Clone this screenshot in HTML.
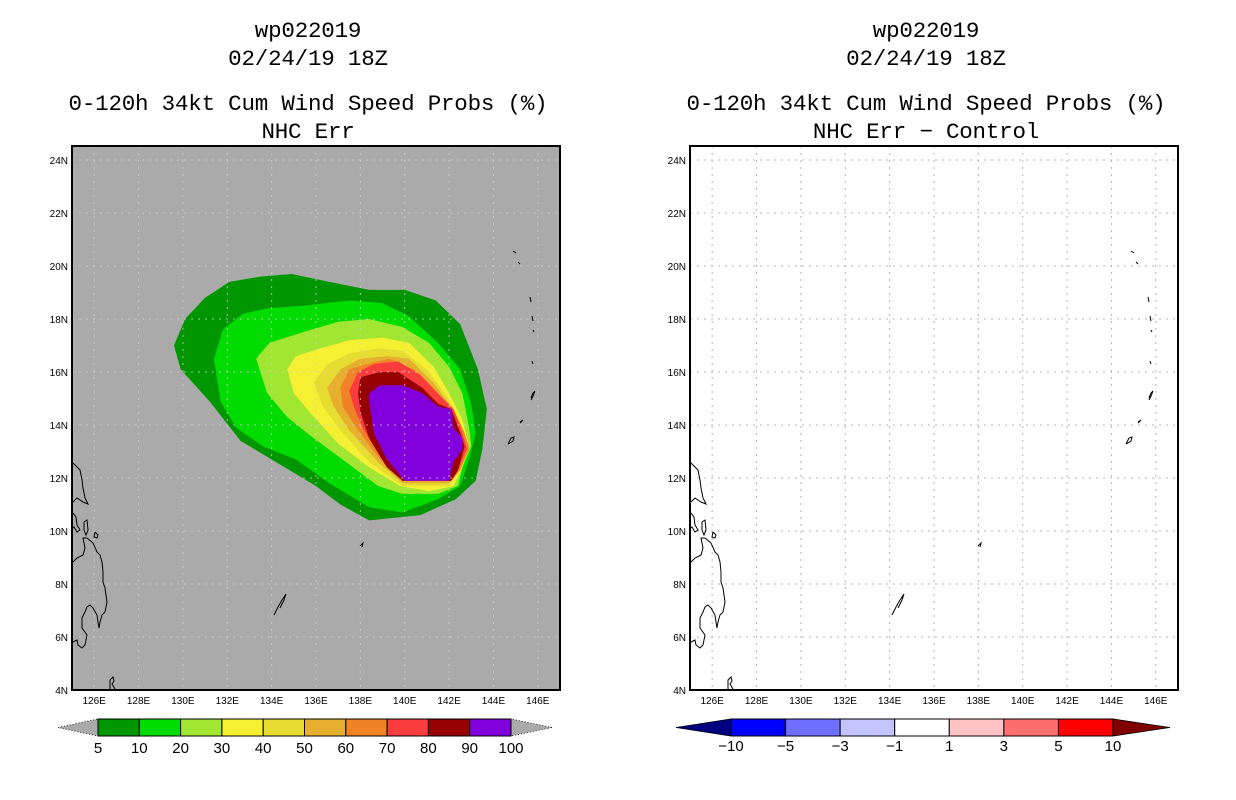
<!DOCTYPE html>
<html><head><meta charset="utf-8"><style>
html,body{margin:0;padding:0;background:#fff}
svg{display:block}
.t{font-family:"Liberation Mono",monospace;font-size:22.5px;fill:#000;text-anchor:middle;letter-spacing:-0.2px}
.tk{font-family:"Liberation Sans",sans-serif;font-size:10px;fill:#000}
.cb{font-family:"Liberation Sans",sans-serif;font-size:15px;fill:#000;text-anchor:middle}
</style></head><body>
<svg id="s" width="1236" height="800" viewBox="0 0 1236 800" xmlns="http://www.w3.org/2000/svg">
<text class="t" x="308" y="37">wp022019</text>
<text class="t" x="308" y="65">02/24/19 18Z</text>
<text class="t" x="308" y="110">0-120h 34kt Cum Wind Speed Probs (%)</text>
<text class="t" x="308" y="138">NHC Err</text>
<text class="t" x="926" y="37">wp022019</text>
<text class="t" x="926" y="65">02/24/19 18Z</text>
<text class="t" x="926" y="110">0-120h 34kt Cum Wind Speed Probs (%)</text>
<text class="t" x="926" y="138">NHC Err − Control</text>
</svg>
<script>
const lonTicks=[126,128,130,132,134,136,138,140,142,144,146];
const latTicks=[4,6,8,10,12,14,16,18,20,22,24];
const probLevels=[5,10,20,30,40,50,60,70,80,90,100];
const probColors=["#009600","#00dc00","#a0e632","#f5f032","#e6dc32","#e6af2d","#f08228","#fa3c3c","#960000","#8200dc"];
const diffLevels=[-10,-5,-3,-1,1,3,5,10];
const diffColors=["#0000ff","#6e6eff","#c3c3ff","#ffffff","#ffc3c3","#ff6e6e","#ff0000"];
const c5=[[129.6,17.0],[130.1,18.0],[131.0,18.8],[132.1,19.4],[133.5,19.6],[134.9,19.7],[136.6,19.4],[138.4,19.1],[140.0,19.1],[141.4,18.7],[142.5,17.8],[143.3,16.1],[143.7,14.6],[143.5,13.1],[143.2,11.9],[142.3,11.2],[140.7,10.6],[138.4,10.4],[137.1,11.0],[136.0,11.7],[134.4,12.5],[132.6,13.4],[131.2,14.9],[129.9,16.1]];
const c10=[[131.4,16.5],[131.8,17.6],[132.7,18.2],[133.8,18.4],[135.4,18.5],[137.5,18.7],[139.0,18.6],[140.2,18.1],[141.5,17.1],[142.5,16.1],[143.0,14.8],[143.2,13.7],[142.9,12.7],[142.5,11.7],[141.5,11.2],[139.9,10.7],[138.4,10.9],[136.6,11.8],[135.1,12.7],[133.6,13.2],[132.4,13.9],[131.7,14.9]];
const c20=[[133.3,16.5],[133.9,17.1],[135.4,17.5],[137.0,17.9],[138.4,18.0],[139.9,17.7],[141.1,17.1],[142.0,16.2],[142.6,15.2],[142.9,13.9],[143.0,13.2],[142.6,12.4],[142.4,11.7],[141.5,11.4],[139.9,11.4],[138.8,11.7],[137.2,12.7],[135.9,13.5],[134.7,14.3],[133.8,15.2]];
const c30=[[134.7,16.1],[135.1,16.6],[136.2,16.9],[137.5,17.2],[139.0,17.3],[140.2,17.1],[141.3,16.2],[142.0,15.2],[142.6,14.2],[142.9,13.2],[142.6,12.4],[142.2,11.7],[141.1,11.5],[139.8,11.7],[138.4,12.4],[137.0,13.3],[135.7,14.5],[135.0,15.2]];
const c40=[[135.9,15.6],[136.5,16.3],[137.5,16.7],[138.8,16.9],[139.9,16.8],[141.0,16.1],[141.9,15.1],[142.5,14.1],[142.9,13.2],[142.5,12.4],[142.0,11.7],[139.9,11.7],[138.4,12.6],[137.1,13.8],[136.3,14.7]];
const c50=[[136.5,15.4],[137.1,16.1],[138.0,16.5],[139.2,16.6],[140.2,16.5],[141.3,15.6],[142.0,14.8],[142.6,13.9],[142.9,13.2],[142.5,12.3],[142.0,11.8],[139.9,11.8],[138.8,12.6],[137.5,13.8],[136.8,14.7]];
const c60=[[137.1,15.4],[137.5,16.1],[138.3,16.3],[139.3,16.5],[140.4,16.1],[141.5,15.2],[142.2,14.6],[142.7,13.7],[142.9,13.1],[142.5,12.3],[142.1,11.9],[139.9,11.9],[138.9,12.7],[137.9,13.8],[137.2,14.7]];
const c70=[[137.5,15.3],[137.9,16.0],[138.6,16.3],[139.7,16.4],[140.7,15.9],[141.6,15.1],[142.2,14.6],[142.6,13.7],[142.8,13.1],[142.4,12.3],[142.1,11.9],[139.9,11.9],[139.2,12.4],[138.1,13.9],[137.7,14.7]];
const c80=[[137.9,15.2],[138.0,15.8],[138.9,16.0],[139.7,16.0],[140.8,15.4],[141.5,14.8],[142.1,14.6],[142.5,13.7],[142.7,13.2],[142.4,12.3],[142.1,11.9],[139.9,11.9],[139.2,12.4],[138.4,13.5],[138.0,14.5]];
const c90=[[138.4,14.9],[138.4,15.2],[138.9,15.5],[139.9,15.5],[140.8,15.2],[141.5,14.7],[142.1,14.6],[142.2,13.9],[142.6,13.5],[142.6,13.1],[142.2,12.6],[142.0,11.9],[140.0,11.9],[139.2,12.7],[138.6,13.7]];
const contours=[c5,c10,c20,c30,c40,c50,c60,c70,c80,c90];

const NS="http://www.w3.org/2000/svg";
const svg=document.getElementById('s');
function mk(tag,attrs,parent){const e=document.createElementNS(NS,tag);for(const k in attrs)e.setAttribute(k,attrs[k]);(parent||svg).appendChild(e);return e;}
const PL=[72,690],PT=146,PB=690,PW=488;
const lonMin=125,lonMax=147,latMin=4,latMax=24.53;
function xs(x0,lon){return x0+(lon-lonMin)/(lonMax-lonMin)*PW;}
function ys(lat){return PB-(lat-latMin)/(latMax-latMin)*(PB-PT);}
const coast=[
 [[1,463],[5,467],[8,470],[10,480],[11,488],[13,498],[16,504],[11,502],[5,498],[1,502]],
 [[1,513],[4,517],[5,525],[8,530],[5,532],[2,527],[1,528]],
 [[12,522],[15,520],[16,530],[14,535],[12,530],[12,522]],
 [[23,532],[26,535],[25,538],[22,537],[23,532]],
 [[1,562],[5,558],[11,555],[13,548],[11,538],[15,538],[21,543],[25,552],[28,555],[30,562],[31,572],[31,582],[33,588],[35,602],[33,612],[30,615],[28,622],[27,628],[26,622],[25,615],[21,608],[18,605],[15,607],[13,612],[10,618],[10,628],[15,635],[13,645],[10,648],[6,645],[5,640],[1,642]],
 [[38,690],[38,680],[41,677],[42,681],[40,684],[43,689]],
 [[288,546],[291,543],[290,547]],
 [[202,615],[206,607],[210,600],[214,594],[212,600],[208,608]],
 [[441,251],[444,253]],[[446,262],[448,264]],
 [[458,297],[459,302]],[[460,316],[461,321]],[[461,330],[462,332]],
 [[460,361],[461,364]],
 [[459,398],[461,393],[463,391],[461,396],[459,400]],
 [[448,422],[451,420],[448,423]],
 [[436,444],[439,438],[442,437],[441,441],[438,443],[436,444]]
];
function panel(idx){
  const x0=PL[idx];
  const g=mk('g',{});
  
  
  const bg=mk('rect',{x:x0,y:PT,width:PW,height:PB-PT,fill:idx?'#ffffff':'#aaaaaa'},g);
  
  
  if(!idx){
    contours.forEach((c,i)=>{
      const p=mk('polygon',{points:c.map(q=>xs(x0,q[0]).toFixed(1)+','+ys(q[1]).toFixed(1)).join(' '),fill:probColors[i],'stroke-linejoin':'round'},g);
      
      
    });
  }
  const grid=idx?'#b4b4b4':'#cfcfcf';
  const op=idx?1:0.8;
  lonTicks.forEach(l=>{const x=xs(x0,l);
    const gl=mk('line',{x1:x,x2:x,y1:PT,y2:PB,stroke:grid,'stroke-opacity':op,'stroke-width':1,'stroke-dasharray':'2,5'},g);
    
    
    const t=mk('text',{x:x,y:PB+14,class:'tk','text-anchor':'middle'},g);t.textContent=l+'E';
    
    
  });
  latTicks.forEach(l=>{const y=ys(l);
    if(l>4){const gl=mk('line',{x1:x0,x2:x0+PW,y1:y,y2:y,stroke:grid,'stroke-opacity':op,'stroke-width':1,'stroke-dasharray':'2,5'},g);
      
      }
    const t=mk('text',{x:x0-4,y:y+4,class:'tk','text-anchor':'end'},g);t.textContent=l+'N';
    
    
  });
  coast.forEach(c=>{const p=mk('polyline',{points:c.map(q=>(x0+q[0])+','+q[1]).join(' '),fill:'none',stroke:'#000','stroke-width':1},g);
    
    });
  const fr=mk('rect',{x:x0,y:PT,width:PW,height:PB-PT,fill:'none',stroke:'#000','stroke-width':2},g);
  
  
}
panel(0);panel(1);
(function(){
  const g=mk('g',{});
  
  
  const x0=98,x1=511,y0=719,y1=736,n=probColors.length,w=(x1-x0)/n;
  const lt=mk('polygon',{points:`58,727.5 ${x0},${y0} ${x0},${y1}`,fill:'#aaaaaa',stroke:'#000','stroke-dasharray':'1,2','stroke-width':0.8},g);
  
  
  const rt=mk('polygon',{points:`552,727.5 ${x1},${y0} ${x1},${y1}`,fill:'#aaaaaa',stroke:'#000','stroke-dasharray':'1,2','stroke-width':0.8},g);
  
  
  probColors.forEach((c,i)=>{const r=mk('rect',{x:x0+i*w,y:y0,width:w,height:y1-y0,fill:c,stroke:'#000','stroke-width':1},g);
    
    });
  probLevels.forEach((v,i)=>{const t=mk('text',{x:x0+i*w,y:753,class:'cb'},g);t.textContent=v;
    
    });
})();
(function(){
  const g=mk('g',{});
  
  
  const x0=731,x1=1113,y0=719,y1=736,n=diffColors.length,w=(x1-x0)/n;
  const lt=mk('polygon',{points:`676,727.5 ${x0},${y0} ${x0},${y1}`,fill:'#000080',stroke:'#000','stroke-width':0.8},g);
  
  
  const rt=mk('polygon',{points:`1170,727.5 ${x1},${y0} ${x1},${y1}`,fill:'#800000',stroke:'#000','stroke-width':0.8},g);
  
  
  diffColors.forEach((c,i)=>{const r=mk('rect',{x:x0+i*w,y:y0,width:w,height:y1-y0,fill:c,stroke:'#000','stroke-width':1},g);
    
    });
  diffLevels.forEach((v,i)=>{const t=mk('text',{x:x0+i*w,y:751,class:'cb','font-size':13},g);t.textContent=v<0?'−'+(-v):v;
    
    });
})();
</script>
</body></html>
